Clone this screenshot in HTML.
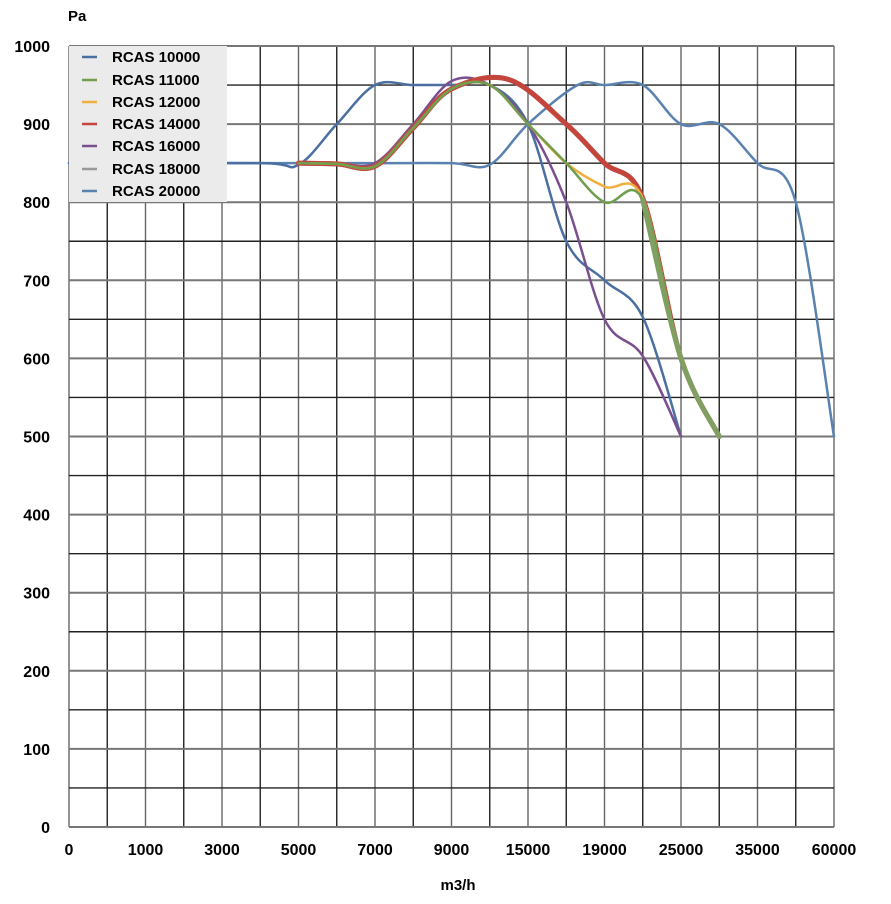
<!DOCTYPE html>
<html><head><meta charset="utf-8"><style>
body{margin:0;background:#fff;}
svg{display:block;font-family:"Liberation Sans",Arial,sans-serif;font-weight:bold;}
</style></head><body>
<svg id="s" width="891" height="904" xmlns="http://www.w3.org/2000/svg">
<rect width="891" height="904" fill="#fff"/>
<g id="grid"></g>
<g id="lines" fill="none" stroke-linecap="round" stroke-linejoin="round"></g>
<g id="legend">
<rect x="69" y="46" width="158" height="156" fill="#ebebeb"/>
<line x1="82" y1="57" x2="97" y2="57" stroke="#4a6fa0" stroke-width="2.5"/><text x="112" y="62" font-size="15">RCAS 10000</text>
<line x1="82" y1="80" x2="97" y2="80" stroke="#6f9e4e" stroke-width="2.5"/><text x="112" y="85" font-size="15">RCAS 11000</text>
<line x1="82" y1="102" x2="97" y2="102" stroke="#f0b040" stroke-width="2.5"/><text x="112" y="107" font-size="15">RCAS 12000</text>
<line x1="82" y1="124" x2="97" y2="124" stroke="#c4453c" stroke-width="2.5"/><text x="112" y="129" font-size="15">RCAS 14000</text>
<line x1="82" y1="146" x2="97" y2="146" stroke="#7a4f8e" stroke-width="2.5"/><text x="112" y="151" font-size="15">RCAS 16000</text>
<line x1="82" y1="169" x2="97" y2="169" stroke="#999" stroke-width="2.5"/><text x="112" y="174" font-size="15">RCAS 18000</text>
<line x1="82" y1="191" x2="97" y2="191" stroke="#5a82b0" stroke-width="2.5"/><text x="112" y="196" font-size="15">RCAS 20000</text>
</g>
<text x="68" y="21" font-size="15">Pa</text>
<text x="458" y="890" font-size="15" text-anchor="middle">m3/h</text>
<g id="lab" font-size="16"></g>
</svg>
<script>
var ns="http://www.w3.org/2000/svg";
function X(c){return 69+38.25*c;}
function Y(v){return 827-0.781*v;}
function el(p,t,a,txt){var e=document.createElementNS(ns,t);for(var k in a)e.setAttribute(k,a[k]);if(txt!=null)e.textContent=txt;document.getElementById(p).appendChild(e);}
for(var c=0;c<=20;c++)el("grid","line",{x1:X(c),y1:Y(1000),x2:X(c),y2:Y(0),stroke:c%2?"#222":"#666","stroke-width":1.4});
for(var j=0;j<=20;j++){var v=j*50;el("grid","line",{x1:X(0),y1:Y(v),x2:X(20),y2:Y(v),stroke:j%2?"#222":"#777","stroke-width":j%2?1.4:2});}
for(var v=0;v<=1000;v+=100)el("lab","text",{x:50,y:Y(v)+6,"text-anchor":"end"},String(v));
var xl=["0","1000","3000","5000","7000","9000","15000","19000","25000","35000","60000"];
xl.forEach(function(t,i){el("lab","text",{x:X(2*i),y:855,"text-anchor":"middle"},t);});
function path(pts){var P=pts.map(function(p){return [X(p[0]),Y(p[1])];});var d="M"+P[0][0]+","+P[0][1];
for(var i=0;i<P.length-1;i++){var p0=P[i-1]||P[i],p1=P[i],p2=P[i+1],p3=P[i+2]||P[i+1];var t=6;
d+=" C"+(p1[0]+(p2[0]-p0[0])/t)+","+(p1[1]+(p2[1]-p0[1])/t)+" "+(p2[0]-(p3[0]-p1[0])/t)+","+(p2[1]-(p3[1]-p1[1])/t)+" "+p2[0]+","+p2[1];}
return d;}
function L(pts,col,w){el("lines","path",{d:path(pts),stroke:col,"stroke-width":w});}
L([[0,850],[4,850],[6,850],[8,850],[10,850],[11,848],[12,900],[13.3,950],[14,950],[15,950],[16,900],[17,900],[18,850],[19,800],[20,500]],"#5a82b0",2.5);
L([[0,850],[5,850],[6,848],[7,900],[8,950],[9,950],[10,950],[11,950],[12,900],[13,750],[14,700],[15,653],[16,500]],"#4a6fa0",2.5);
L([[6,850],[7,850],[8,850],[9,900],[10,955],[11,950],[12,900],[13,800],[14,650],[15,603],[16,500]],"#7a4f8e",2.5);
var R=[[6,850],[7,849],[8,846],[9,895],[10,945],[11.5,957],[13,900],[14,850],[15,805],[16,600],[17,500]];
L(R,"#999",5);
L(R,"#c4453c",5);
L([[6,850],[7,849],[8,846],[9,895],[10,945],[11,950],[12,900],[13,850],[14,820],[15,805],[16,600],[17,500]],"#f0b040",2.5);
L([[6,850],[7,849],[8,846],[9,895],[10,945],[11,950],[12,900],[13,850],[14,800],[15,803],[16,600],[17,500]],"#6f9e4e",2.5);
L([[15,803],[16,600],[17,500]],"#7fa060",5);
</script>
</body></html>
